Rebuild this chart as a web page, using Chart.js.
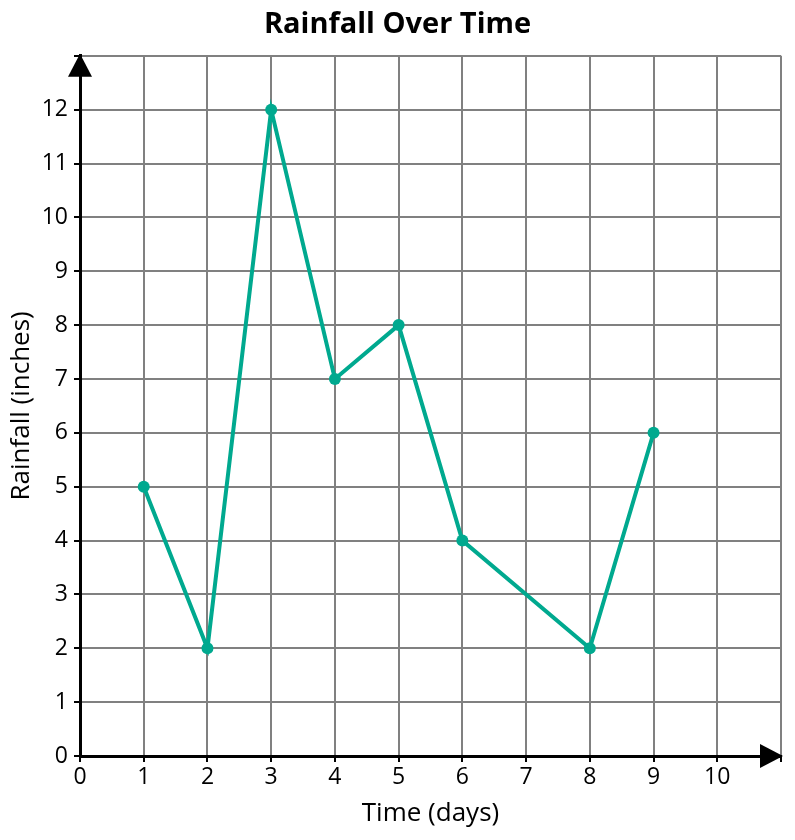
<!DOCTYPE html>
<html>
<head>
<meta charset="utf-8">
<script src="https://cdn.jsdelivr.net/npm/chart.js@4.4.0/dist/chart.umd.min.js"></script>
<style>
  html, body { margin: 0; padding: 0; background: #fff; }
  #wrap { width: 795px; height: 840px; }
</style>
</head>
<body>
<div id="wrap"><canvas id="rain" width="795" height="840"></canvas></div>
<script>
// days and rainfall
const days = [1, 2, 3, 4, 5, 6, 8, 9];
const rainfall = [5, 2, 12, 7, 8, 4, 2, 6];
const xTickMax = 10;
const yTickMax = 12;

const lineColor = '#00a98f';
const gridColor = '#808080';
const fontFam = "'Open Sans', sans-serif";

// arrow heads at the end of each axis
const arrowPlugin = {
  id: 'arrows',
  afterDraw(chart) {
    const { ctx, chartArea } = chart;
    const x0 = chart.scales.x.getPixelForValue(0);
    const y0 = chart.scales.y.getPixelForValue(0);
    ctx.save();
    ctx.fillStyle = '#000';
    // up arrow
    ctx.beginPath();
    ctx.moveTo(x0, chartArea.top - 2);
    ctx.lineTo(x0 - 12, chartArea.top + 21);
    ctx.lineTo(x0 + 12, chartArea.top + 21);
    ctx.closePath();
    ctx.fill();
    // right arrow
    ctx.beginPath();
    ctx.moveTo(chartArea.right + 2, y0);
    ctx.lineTo(chartArea.right - 21, y0 - 12);
    ctx.lineTo(chartArea.right - 21, y0 + 12);
    ctx.closePath();
    ctx.fill();
    ctx.restore();
  }
};

new Chart(document.getElementById('rain'), {
  type: 'line',
  data: {
    datasets: [{
      label: 'Rainfall',
      data: days.map((d, i) => ({ x: d, y: rainfall[i] })),
      borderColor: lineColor,
      backgroundColor: lineColor,
      borderWidth: 4,
      pointRadius: 6,
      pointBackgroundColor: lineColor,
      pointBorderWidth: 0,
      tension: 0,
      fill: false
    }]
  },
  options: {
    responsive: false,
    animation: false,
    layout: { padding: { left: 14, right: 14, top: 0, bottom: 0 } },
    plugins: {
      legend: { display: false },
      tooltip: { enabled: false },
      title: {
        display: true,
        text: 'Rainfall Over Time',
        color: '#000',
        font: { family: fontFam, size: 29, weight: 'bold' },
        padding: { top: 7, bottom: 14 }
      }
    },
    scales: {
      x: {
        type: 'linear',
        min: 0,
        max: xTickMax + 1,
        afterFit: s => { s.height = 84; },
        ticks: {
          stepSize: 1,
          color: '#000',
          font: { family: fontFam, size: 23 },
          padding: 2,
          callback: v => (v <= xTickMax ? v : '')
        },
        grid: { color: gridColor, lineWidth: 2, tickColor: '#000', tickLength: 6 },
        border: { color: '#000', width: 3 },
        title: {
          display: true,
          text: 'Time (days)',
          color: '#000',
          font: { family: fontFam, size: 26 },
          padding: { top: 2, bottom: 11 }
        }
      },
      y: {
        type: 'linear',
        min: 0,
        max: yTickMax + 1,
        afterFit: s => { s.width = 66; },
        ticks: {
          stepSize: 1,
          color: '#000',
          font: { family: fontFam, size: 23 },
          padding: 6,
          callback: v => (v <= yTickMax ? v : '')
        },
        grid: { color: gridColor, lineWidth: 2, tickColor: '#000', tickLength: 6 },
        border: { color: '#000', width: 3 },
        title: {
          display: true,
          text: 'Rainfall (inches)',
          color: '#000',
          font: { family: fontFam, size: 26 },
          padding: { top: -8, bottom: 4 }
        }
      }
    }
  },
  plugins: [arrowPlugin]
});
</script>
</body>
</html>
